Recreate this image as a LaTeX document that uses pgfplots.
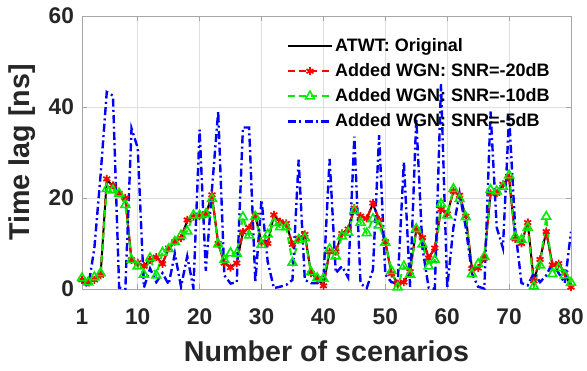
\documentclass[border=0pt]{standalone}
\usepackage{pgfplots}
\pgfplotsset{compat=1.18}
\usepackage{fontspec}
\setmainfont{Liberation Sans}
\usetikzlibrary{calc}
\definecolor{mred}{RGB}{255,0,0}
\definecolor{mgreen}{RGB}{0,235,0}
\definecolor{mblue}{RGB}{0,0,255}
\begin{document}
\begin{tikzpicture}
\begin{axis}[
  scale only axis,
  width=366.75pt, height=204.75pt,
  xmin=1, xmax=80, ymin=0, ymax=60,
  xtick={1,10,20,30,40,50,60,70,80},
  ytick={0,20,40,60},
  grid=major,
  major grid style={gray!25, line width=0.5pt},
  axis line style={gray!70, line width=0.6pt},
  tick style={gray!70, line width=0.6pt},
  tick align=inside,
  major tick length=4pt,
  /pgf/number format/assume math mode=true,
  ticklabel style={font=\fontsize{17}{20}\selectfont\bfseries, text=black!85},
  xticklabel style={yshift=-11.5pt},
  yticklabel style={xshift=-2.5pt},
  xlabel={Number of scenarios},
  ylabel={Time lag [ns]},
  label style={font=\fontsize{21.5}{24}\selectfont\bfseries, text=black!85},
  xlabel style={at={(rel axis cs:0.5,0)}, anchor=center, yshift=-47pt},
  ylabel style={at={(rel axis cs:0,0.5)}, anchor=center, rotate=0, yshift=45pt},
  legend cell align=left,
  legend style={at={(rel axis cs:0.41,0.935)}, anchor=north west, draw=none, fill=none,
    font=\fontsize{13.5}{15}\selectfont\bfseries, row sep=4.5pt,
    nodes={inner sep=1.5pt}},
  legend image code/.code={
    \draw[mark repeat=2,mark phase=2,#1] plot coordinates {(0cm,0cm) (0.58cm,0cm) (1.16cm,0cm)};
  },
]
\coordinate (bl) at (rel axis cs:0,0);
\coordinate (tr) at (rel axis cs:1,1);
% ATWT original
\addplot[black, line width=1.5pt, mark=none] table[x=n, y=r] {
n r
1 2
2 1.5
3 2
4 3
5 24
6 22.6
7 21
8 20
9 6.2
10 5.8
11 5
12 6.4
13 7
14 5.6
15 9
16 10.4
17 11.2
18 15
19 15.9
20 16
21 16.5
22 20.5
23 10
24 5.8
25 4.8
26 5.8
27 12.5
28 13.5
29 16.2
30 10.2
31 10
32 16.2
33 14.8
34 14.4
35 9.8
36 11.2
37 12
38 3.5
39 2.3
40 0.8
41 8.2
42 8.2
43 12.2
44 13.2
45 17.6
46 16
47 15.5
48 18.7
49 15.2
50 10.4
51 3.4
52 1.2
53 1.6
54 3.8
55 13
56 11.3
57 6.8
58 9
59 17.5
60 16.5
61 21.4
62 20.6
63 16
64 4.5
65 4.6
66 6.8
67 21
68 21
69 23
70 24.4
71 11
72 10
73 14.6
74 1.8
75 6.5
76 12.6
77 5.3
78 5.6
79 3.5
80 0.5
};
\addlegendentry{ATWT: Original}
% SNR = -20 dB
\addplot[mred, line width=1.5pt, dash pattern=on 5pt off 3.5pt, mark=asterisk, mark size=3pt,
  mark options={solid, line width=1.3pt}] table[x=n, y=r] {
n r
1 2
2 1.5
3 2
4 3
5 24.2
6 22.8
7 21
8 20
9 6.4
10 5.8
11 5
12 6.4
13 7
14 5.5
15 9
16 10.4
17 11.2
18 15.2
19 15.9
20 16
21 16.5
22 20.7
23 10
24 5.7
25 4.7
26 5.7
27 12.5
28 13.5
29 16.2
30 10.2
31 10
32 16.3
33 14.8
34 14.4
35 9.8
36 11.2
37 12
38 3.5
39 2.3
40 0.7
41 8.2
42 8.2
43 12.2
44 13.2
45 17.8
46 16
47 15.5
48 18.9
49 15.2
50 10.4
51 3.4
52 1.2
53 1.5
54 3.8
55 13
56 11.3
57 6.8
58 9
59 17.5
60 16.5
61 21.5
62 20.6
63 16
64 4.5
65 4.6
66 6.8
67 21
68 21
69 23
70 24.5
71 11
72 10
73 14.6
74 1.8
75 6.5
76 12.6
77 5.3
78 5.6
79 3.5
80 0.4
};
\addlegendentry{Added WGN: SNR=-20dB}
% SNR = -10 dB
\addplot[mgreen, line width=1.5pt, dash pattern=on 5pt off 3.5pt, mark=triangle, mark size=3.8pt,
  mark options={solid, line width=1.2pt}] table[x=n, y=g] {
n g
1 2.4
2 1.5
3 2.6
4 3.5
5 22
6 21.7
7 21
8 18.5
9 6.4
10 5
11 3.2
12 6.8
13 3
14 8
15 8.8
16 10.4
17 11.8
18 12.7
19 16.2
20 16.2
21 16.5
22 19.8
23 9.8
24 6.4
25 7.9
26 7.8
27 15.8
28 11.8
29 15.9
30 9.7
31 12
32 14.5
33 13.6
34 13.6
35 5.8
36 10.8
37 11.2
38 3.7
39 2.4
40 2.3
41 8.8
42 7.2
43 11.6
44 12.4
45 17.2
46 14.6
47 12.3
48 15.4
49 14
50 10.2
51 4
52 0.4
53 5
54 3.2
55 13.2
56 9.8
57 5
58 6.4
59 18.7
60 16.2
61 22
62 19.8
63 15.8
64 3.3
65 5.5
66 7.1
67 21.8
68 21.5
69 22.5
70 25
71 11.5
72 10.8
73 13.5
74 0.6
75 5.2
76 15.9
77 3.3
78 4.6
79 3
80 1.4
};
\addlegendentry{Added WGN: SNR=-10dB}
% SNR = -5 dB
\addplot[mblue, line width=1.8pt, dash pattern=on 6pt off 2.5pt on 1.5pt off 2.5pt, mark=none] table[x=n, y=b] {
n b
1 2
2 0.3
3 9
4 25
5 43.3
6 42.5
7 0.3
8 0
9 35.3
10 31
11 0.3
12 4.5
13 1.5
14 3.5
15 1
16 7.8
17 0.5
18 7.2
19 0.2
20 35
21 4
22 22
23 39
24 3
25 1.2
26 1.5
27 35.5
28 35.5
29 1.5
30 19.6
31 6
32 0.2
33 0.5
34 0.9
35 2
36 28.4
37 2
38 1.3
39 1.3
40 2
41 28.6
42 3.5
43 5
44 2.5
45 33.5
46 1.2
47 0.2
48 4.2
49 33.8
50 3.2
51 1.5
52 1.2
53 28
54 0.5
55 37.5
56 9
57 0.3
58 0
59 45
60 0.3
61 13.5
62 21
63 13.5
64 3.4
65 0.5
66 0.1
67 39
68 13.5
69 9
70 38
71 13
72 1.3
73 0.8
74 3.5
75 1.5
76 3
77 5.7
78 3.5
79 1.3
80 12.6
};
\addlegendentry{Added WGN: SNR=-5dB}
\end{axis}
\pgfresetboundingbox
\path[use as bounding box] ($(bl)+(-61.5pt,-60.75pt)$) rectangle ($(tr)+(12pt,12pt)$);
\end{tikzpicture}
\end{document}
